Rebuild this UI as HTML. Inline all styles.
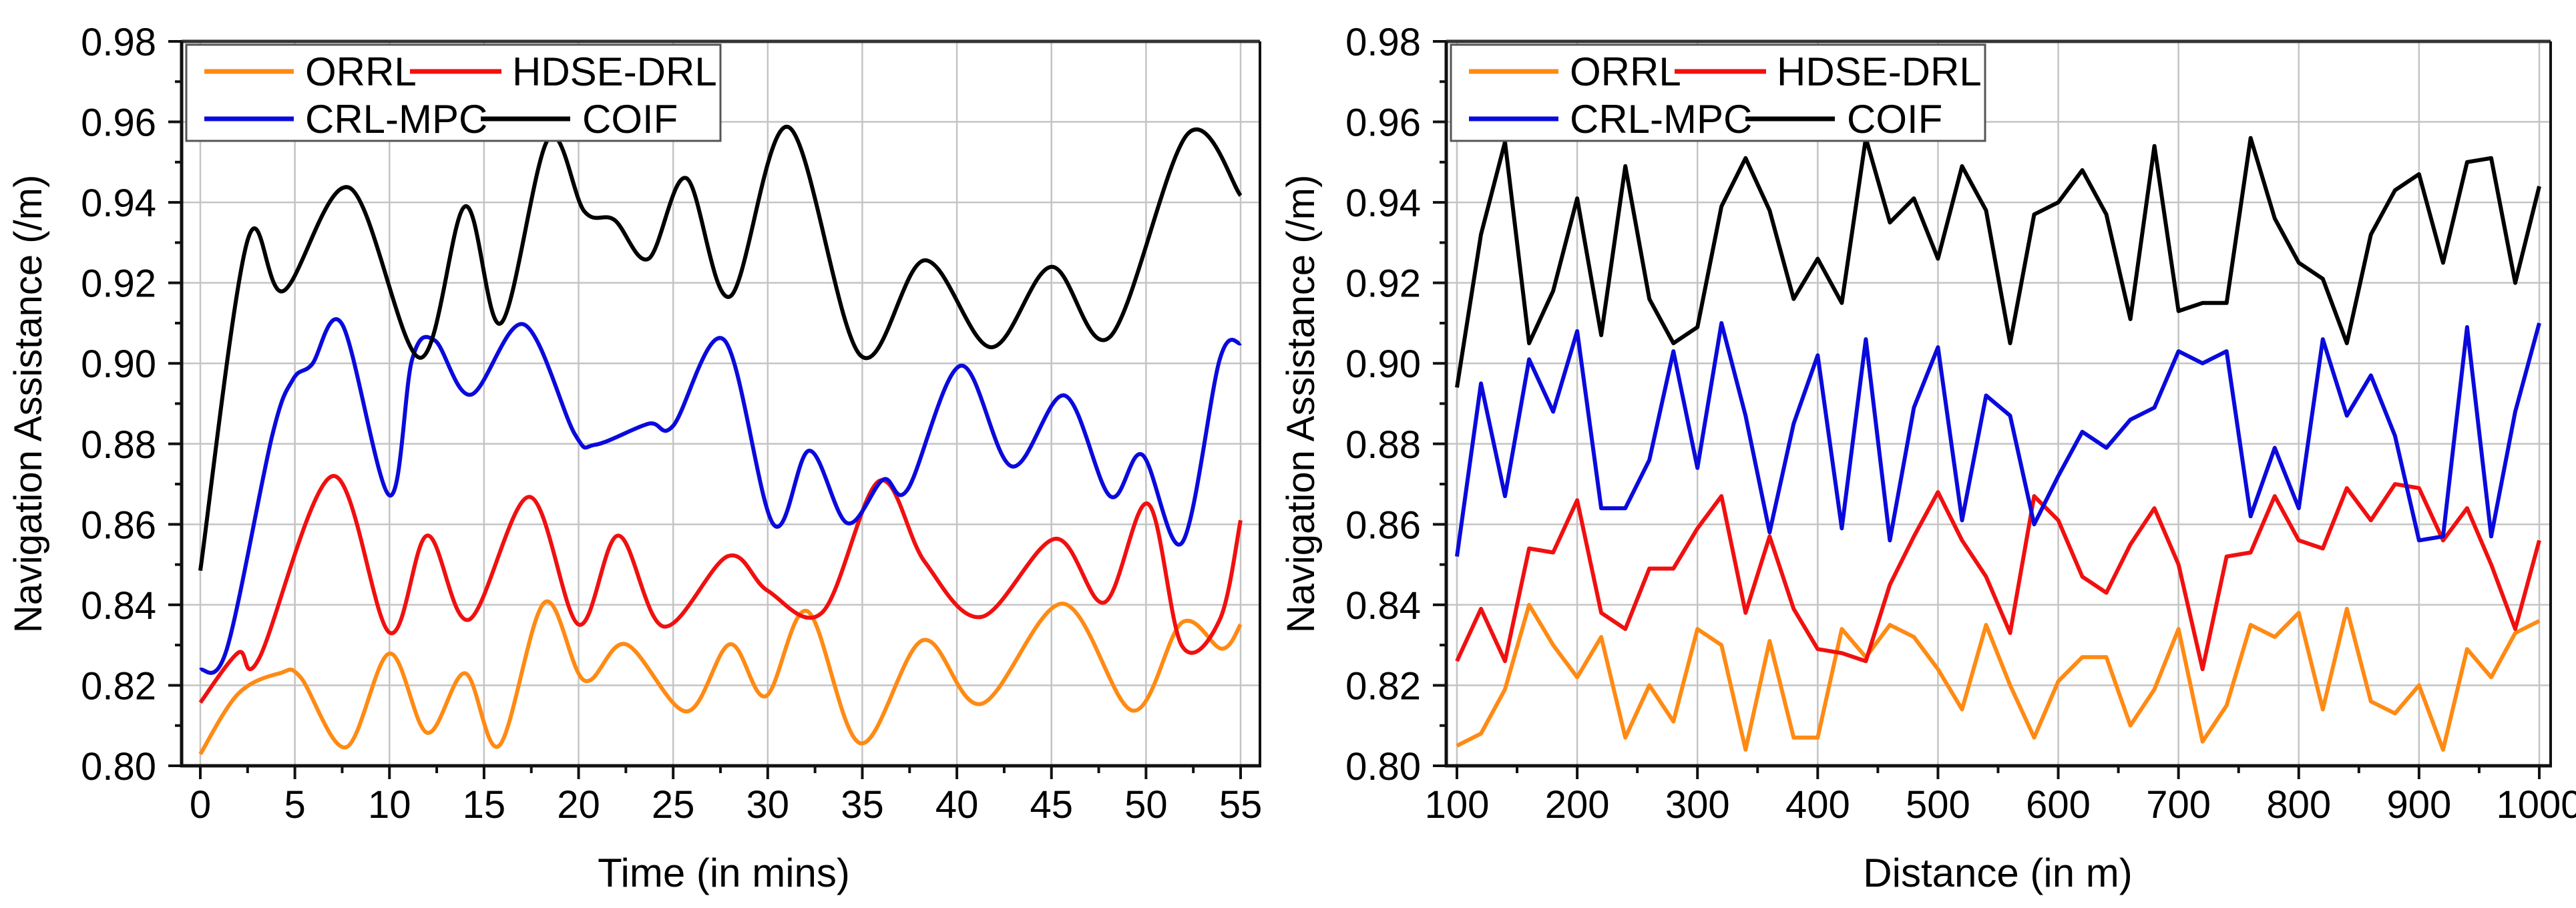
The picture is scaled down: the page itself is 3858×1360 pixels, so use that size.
<!DOCTYPE html>
<html><head><meta charset="utf-8"><style>
html,body{margin:0;padding:0;background:#fff;}
svg{display:block;font-family:"Liberation Sans",Arial,sans-serif;}
</style></head><body>
<svg id="chart" width="3858" height="1360" viewBox="0 0 3858 1360" xmlns="http://www.w3.org/2000/svg"></svg>
<script>
// ---- Left chart data (Time) ----
const timeOrrlT = [0,2,4.2,5.3,7.7,10,12,14,15.8,18.2,20.3,22.5,25.7,28,29.9,32.1,34.9,38.2,41.3,45.6,49.3,51.9,54,55];
const timeOrrlV = [0.8029,0.8179,0.823,0.822,0.8046,0.8279,0.8082,0.823,0.805,0.8406,0.8212,0.8302,0.8135,0.8302,0.8173,0.8384,0.8056,0.8312,0.8154,0.8403,0.8137,0.8356,0.8291,0.8351];
const timeHdseT = [0,2,3.1,7,10,12,14.2,17.4,20,22.1,24.5,27.9,30,32.9,35.9,38.3,41.3,45.2,47.8,50.1,51.9,53.9,55];
const timeHdseV = [0.8157,0.8281,0.8266,0.872,0.8331,0.8572,0.8363,0.8668,0.8351,0.8572,0.8346,0.8521,0.8435,0.8382,0.8708,0.8507,0.837,0.8564,0.8406,0.8651,0.8298,0.8363,0.861];
const timeCrlT = [0,1.4,3.8,4.9,5.9,7.5,10,11.2,12.4,14.3,17.1,19.8,20.9,23.7,25,27.7,30.3,32.2,34.2,36.1,37.4,40.2,42.9,45.7,48.1,49.8,51.9,53.9,55];
const timeCrlV = [0.8238,0.829,0.882,0.896,0.8997,0.9097,0.8672,0.901,0.9057,0.8922,0.9097,0.8824,0.8798,0.885,0.8845,0.9058,0.86,0.8783,0.8603,0.8711,0.8687,0.8994,0.8744,0.892,0.867,0.8773,0.8554,0.901,0.905];
const timeCoifT = [0,2.5,4.4,7.9,11.6,14,15.9,18.4,20.3,21.9,23.7,25.7,28,31.1,34.9,38.3,41.8,45,48.1,52.2,55];
const timeCoifV = [0.8485,0.9306,0.918,0.9436,0.9014,0.939,0.91,0.9558,0.9378,0.9356,0.926,0.946,0.9166,0.9587,0.902,0.9256,0.904,0.924,0.9066,0.957,0.9417];
const timeTicks = [0,5,10,15,20,25,30,35,40,45,50,55];
// ---- Right chart data (Distance) ----
const distX = [100,120,140,160,180,200,220,240,260,280,300,320,340,360,380,400,420,440,460,480,500,520,540,560,580,600,620,640,660,680,700,720,740,760,780,800,820,840,860,880,900,920,940,960,980,1000];
const distOrrl = [0.805,0.808,0.819,0.840,0.830,0.822,0.832,0.807,0.820,0.811,0.834,0.830,0.804,0.831,0.807,0.807,0.834,0.827,0.835,0.832,0.824,0.814,0.835,0.820,0.807,0.821,0.827,0.827,0.810,0.819,0.834,0.806,0.815,0.835,0.832,0.838,0.814,0.839,0.816,0.813,0.820,0.804,0.829,0.822,0.833,0.836];
const distHdse = [0.826,0.839,0.826,0.854,0.853,0.866,0.838,0.834,0.849,0.849,0.859,0.867,0.838,0.857,0.839,0.829,0.828,0.826,0.845,0.857,0.868,0.856,0.847,0.833,0.867,0.861,0.847,0.843,0.855,0.864,0.850,0.824,0.852,0.853,0.867,0.856,0.854,0.869,0.861,0.870,0.869,0.856,0.864,0.850,0.834,0.856];
const distCrl = [0.852,0.895,0.867,0.901,0.888,0.908,0.864,0.864,0.876,0.903,0.874,0.910,0.887,0.858,0.885,0.902,0.859,0.906,0.856,0.889,0.904,0.861,0.892,0.887,0.860,0.872,0.883,0.879,0.886,0.889,0.903,0.900,0.903,0.862,0.879,0.864,0.906,0.887,0.897,0.882,0.856,0.857,0.909,0.857,0.888,0.910];
const distCoif = [0.894,0.932,0.955,0.905,0.918,0.941,0.907,0.949,0.916,0.905,0.909,0.939,0.951,0.938,0.916,0.926,0.915,0.956,0.935,0.941,0.926,0.949,0.938,0.905,0.937,0.940,0.948,0.937,0.911,0.954,0.913,0.915,0.915,0.956,0.936,0.925,0.921,0.905,0.932,0.943,0.947,0.925,0.950,0.951,0.920,0.944];
const distTicks = [100,200,300,400,500,600,700,800,900,1000];
const yTicks = [0.80,0.82,0.84,0.86,0.88,0.90,0.92,0.94,0.96,0.98];
const seriesNames = ["ORRL","HDSE-DRL","CRL-MPC","COIF"];
const seriesColors = ["#ff8a14","#f01010","#0a0adc","#000000"];

const NS="http://www.w3.org/2000/svg";
const svg=document.getElementById('chart');
function mk(tag,attrs,parent){const e=document.createElementNS(NS,tag);for(const k in attrs)e.setAttribute(k,attrs[k]);(parent||svg).appendChild(e);return e;}

function catmull(pts){
  let d="M"+pts[0][0]+","+pts[0][1];
  for(let i=0;i<pts.length-1;i++){
    const p0=pts[Math.max(0,i-1)],p1=pts[i],p2=pts[i+1],p3=pts[Math.min(pts.length-1,i+2)];
    const c1x=p1[0]+(p2[0]-p0[0])/6,c1y=p1[1]+(p2[1]-p0[1])/6;
    const c2x=p2[0]-(p3[0]-p1[0])/6,c2y=p2[1]-(p3[1]-p1[1])/6;
    d+=" C"+c1x.toFixed(1)+","+c1y.toFixed(1)+" "+c2x.toFixed(1)+","+c2y.toFixed(1)+" "+p2[0].toFixed(1)+","+p2[1].toFixed(1);
  }
  return d;
}

function panel(cfg){
  const g=mk('g',{});
  
  
  const top=62,bot=1147;
  const yS=v=>bot-(v-0.80)/(0.18)*(bot-top);
  const xS=v=>cfg.px0+(v-cfg.d0)/(cfg.d1-cfg.d0)*(cfg.px1-cfg.px0);
  // grid
  cfg.ticks.forEach(t=>{const l=mk('line',{x1:xS(t),x2:xS(t),y1:top,y2:bot,stroke:'#c4c4c4','stroke-width':2.5},g);
    });
  yTicks.forEach(t=>{const l=mk('line',{x1:cfg.ax,x2:cfg.rx,y1:yS(t),y2:yS(t),stroke:'#c4c4c4','stroke-width':2.5},g);
    });
  // series
  cfg.series.forEach((s,i)=>{
    const pts=s.x.map((xv,j)=>[xS(xv),yS(s.y[j])]);
    const d=cfg.smooth?catmull(pts):"M"+pts.map(p=>p[0].toFixed(1)+","+p[1].toFixed(1)).join(" L");
    const p=mk('path',{d:d,fill:'none',stroke:seriesColors[i],'stroke-width':6,'stroke-linejoin':'round'},g);
    
    
  });
  // frame
  mk('line',{x1:cfg.ax,x2:cfg.rx,y1:top,y2:top,stroke:'#333','stroke-width':5},g);
  mk('line',{x1:cfg.rx,x2:cfg.rx,y1:top,y2:bot,stroke:'#111','stroke-width':4},g);
  mk('line',{x1:cfg.ax,x2:cfg.ax,y1:top,y2:bot+2,stroke:'#111','stroke-width':5},g);
  mk('line',{x1:cfg.ax-2,x2:cfg.rx+2,y1:bot,y2:bot,stroke:'#111','stroke-width':5},g);
  // y ticks
  yTicks.forEach((t,i)=>{
    mk('line',{x1:cfg.ax-20,x2:cfg.ax,y1:yS(t),y2:yS(t),stroke:'#111','stroke-width':4},g);
    if(i<yTicks.length-1) mk('line',{x1:cfg.ax-10,x2:cfg.ax,y1:yS(t+0.01),y2:yS(t+0.01),stroke:'#111','stroke-width':4},g);
    const tx=mk('text',{x:cfg.ax-38,y:yS(t)+21,'text-anchor':'end','font-size':58,fill:'#000'},g);
    tx.textContent=t.toFixed(2);
    
  });
  // x ticks
  cfg.ticks.forEach((t,i)=>{
    mk('line',{x1:xS(t),x2:xS(t),y1:bot,y2:bot+20,stroke:'#111','stroke-width':4},g);
    if(i<cfg.ticks.length-1){const m=(t+cfg.ticks[i+1])/2;mk('line',{x1:xS(m),x2:xS(m),y1:bot,y2:bot+11,stroke:'#111','stroke-width':4},g);}
    const tx=mk('text',{x:xS(t),y:1225,'text-anchor':'middle','font-size':58,fill:'#000'},g);
    tx.textContent=String(t);
    
  });
  // titles
  const yt=mk('text',{x:0,y:0,transform:'translate('+cfg.ytx+',605) rotate(-90)','text-anchor':'middle','font-size':58,fill:'#000'},g);
  yt.textContent='Navigation Assistance (/m)';
  
  const xt=mk('text',{x:cfg.xtx,y:1328,'text-anchor':'middle','font-size':60,fill:'#000'},g);
  xt.textContent=cfg.xtitle;
  
  // legend
  const lg=mk('g',{transform:'translate('+(cfg.ax-272)+',0)'},g);
  
  mk('rect',{x:279,y:67,width:800,height:144,fill:'#fff',stroke:'#555','stroke-width':3},lg);
  const ent=[[306,440,457,107],[614,751,767,107],[306,440,457,178],[720,854,872,178]];
  ent.forEach((e,i)=>{
    const eg=mk('g',{},lg);
    
    mk('line',{x1:e[0],x2:e[1],y1:e[3],y2:e[3],stroke:seriesColors[i],'stroke-width':7},eg);
    const t=mk('text',{x:e[2],y:e[3]+21,'font-size':60,fill:'#000'},eg);
    t.textContent=seriesNames[i];
  });
}

panel({name:'time-chart',ax:272,rx:1887,px0:300,px1:1858,d0:0,d1:55,ticks:timeTicks,smooth:true,
  ytx:62,xtx:1084,xtitle:'Time (in mins)',
  series:[{x:timeOrrlT,y:timeOrrlV},{x:timeHdseT,y:timeHdseV},{x:timeCrlT,y:timeCrlV},{x:timeCoifT,y:timeCoifV}]});
panel({name:'distance-chart',ax:2166,rx:3820,px0:2182,px1:3803,d0:100,d1:1000,ticks:distTicks,smooth:false,
  ytx:1968,xtx:2992,xtitle:'Distance (in m)',
  series:[{x:distX,y:distOrrl},{x:distX,y:distHdse},{x:distX,y:distCrl},{x:distX,y:distCoif}]});
</script>
</body></html>
